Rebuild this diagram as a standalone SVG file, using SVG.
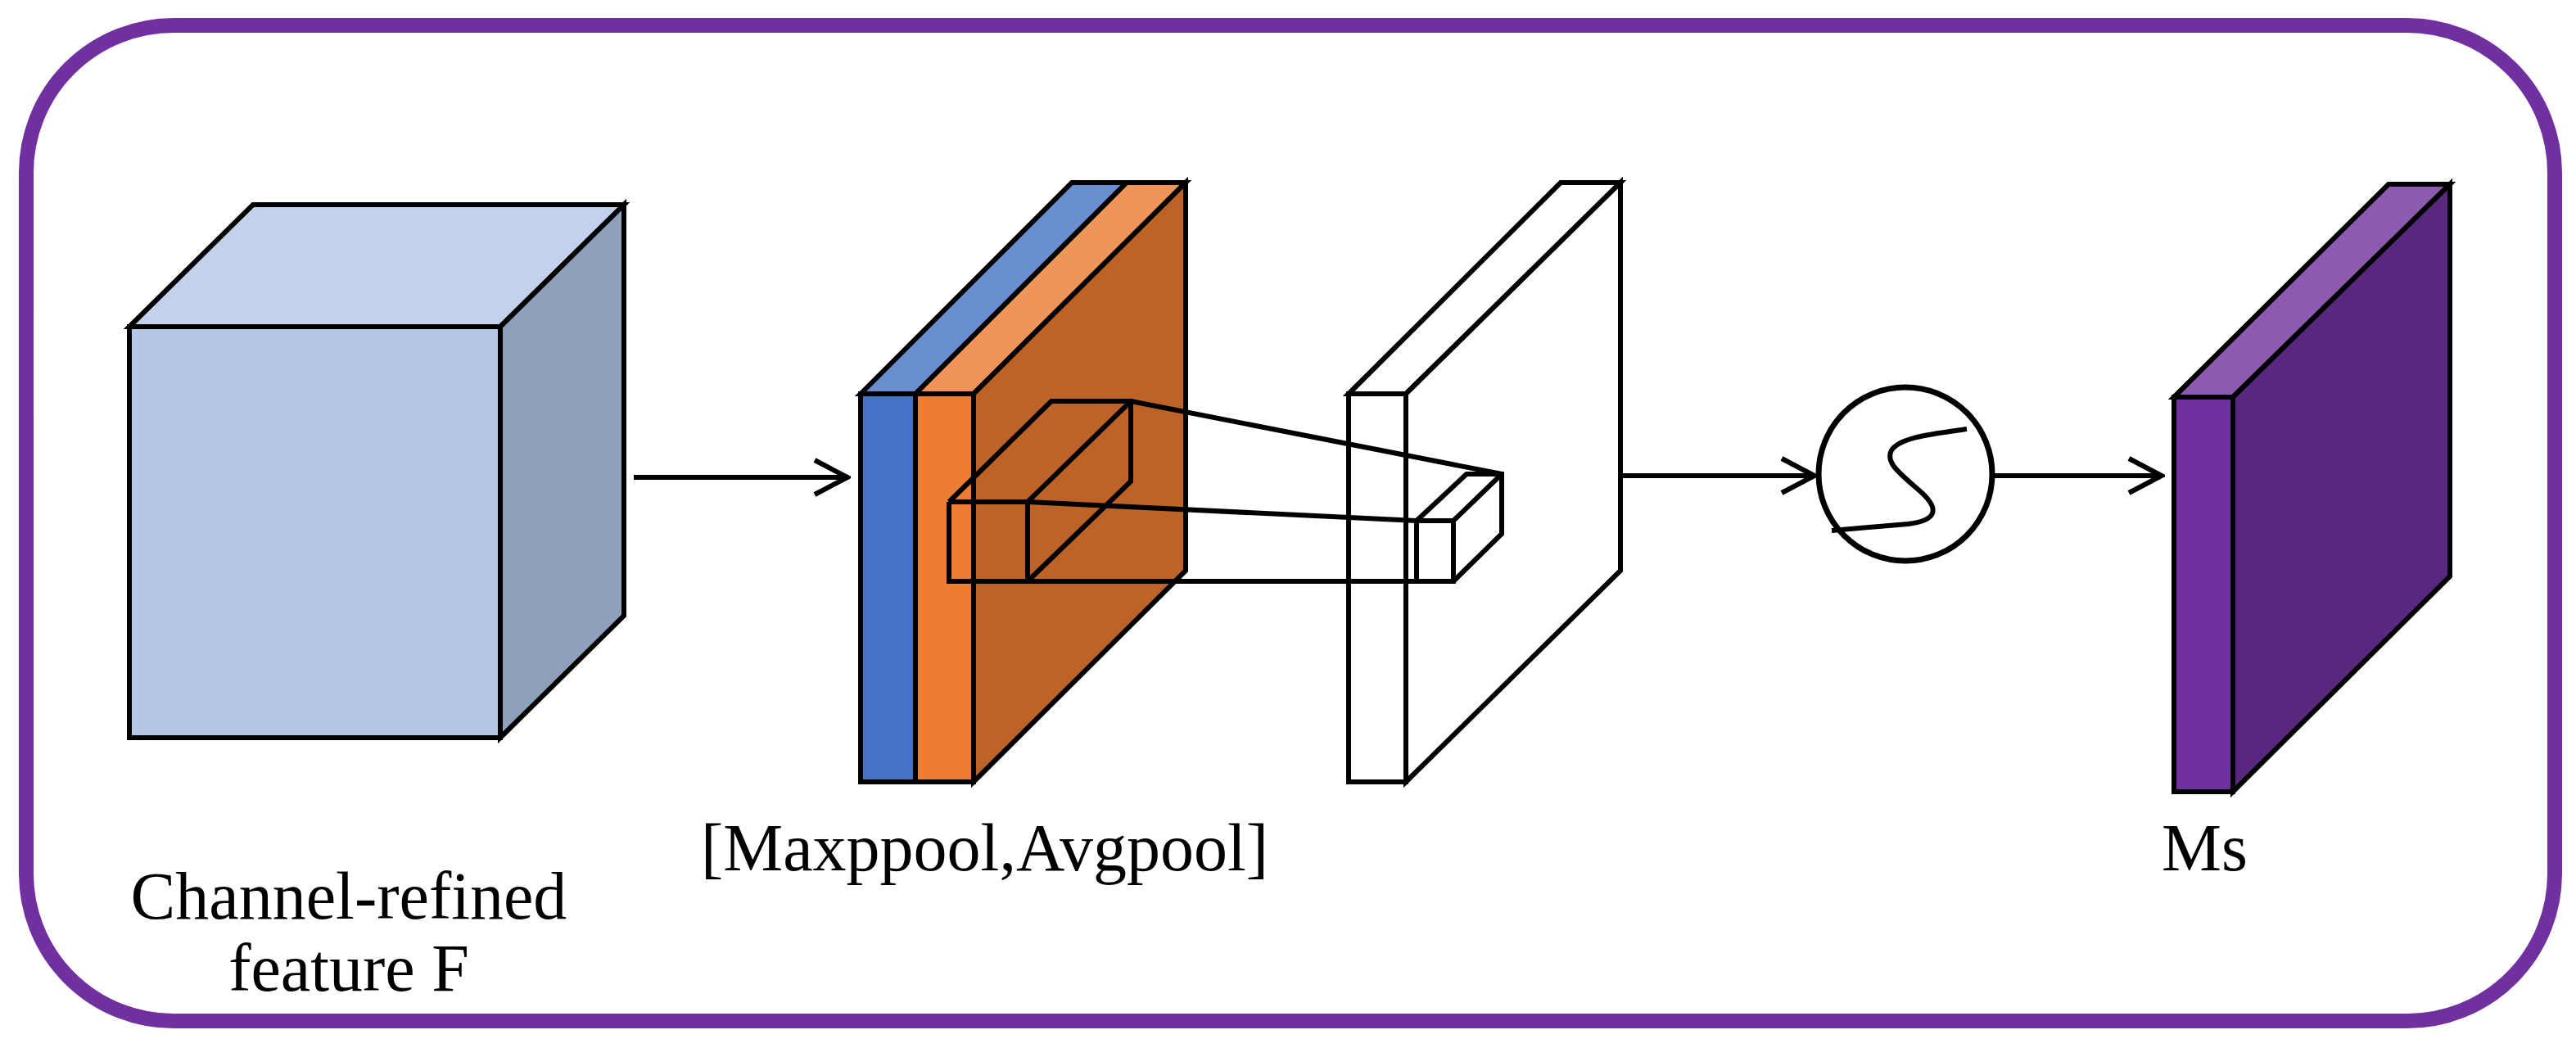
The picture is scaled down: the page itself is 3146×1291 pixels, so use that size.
<svg xmlns="http://www.w3.org/2000/svg" width="3146" height="1291" viewBox="0 0 3146 1291">
<style>
.s{stroke:#000;stroke-width:6;stroke-linejoin:miter}
.l{fill:none;stroke:#000;stroke-width:6}
.t{font-family:"Liberation Serif",serif;font-size:82px;fill:#000}
</style>
<defs>
<marker id="a" viewBox="0 0 50 50" refX="46" refY="25" markerWidth="50" markerHeight="50" markerUnits="userSpaceOnUse" orient="auto">
<path d="M6,4 L46,25 L6,46" fill="none" stroke="#000" stroke-width="6"/>
</marker>
</defs>
<rect x="32" y="31" width="3088" height="1216" rx="180" fill="#fff" stroke="#7030A0" stroke-width="18"/>
<g id="cube">
<polygon class="s" points="158,399 309,250 762,250 611,399" fill="#C2D2EA"/>
<polygon class="s" points="611,399 762,250 762,752 611,901" fill="#8FA1BA"/>
<rect class="s" x="158" y="399" width="453" height="502" fill="#B4C7E7"/>
<text class="t" x="426" y="1122" text-anchor="middle">Channel-refined</text>
<text class="t" x="426" y="1210" text-anchor="middle">feature F</text>
</g>
<g id="pool">
<polygon class="s" points="1051,481 1309,223 1376,223 1118,481" fill="#6A8FD0"/>
<polygon class="s" points="1118,481 1376,223 1448,223 1189,481" fill="#F0955A"/>
<polygon class="s" points="1189,481 1448,223 1448,697 1189,955" fill="#BD6327"/>
<rect class="s" x="1051" y="481" width="67" height="474" fill="#4472C4"/>
<rect class="s" x="1118" y="481" width="71" height="474" fill="#ED7D31"/>
<path class="l" d="M1159,613 L1284,490 L1381,490 L1381,588 L1255,710 M1255,613 L1381,490 M1159,613 H1255 V710 M1159,613 V710 H1255"/>
<text class="t" x="856" y="1063">[Maxppool,Avgpool]</text>
</g>
<g id="conv">
<polygon class="s" points="1647,481 1906,223 1979,223 1717,481" fill="#fff"/>
<polygon class="s" points="1717,481 1979,223 1979,697 1717,955" fill="#fff"/>
<rect class="s" x="1647" y="481" width="70" height="474" fill="#fff"/>
<path class="l" d="M1730,636 L1791,579 L1834,579 L1834,652 L1775,710 M1775,636 L1834,579 M1730,636 H1775 V710 H1730 Z"/>
</g>
<g id="sigmoid">
<circle cx="2327" cy="579" r="106" fill="#fff" stroke="#000" stroke-width="7"/>
<path class="l" stroke-width="8" d="M2402,524 C2360,530 2320,534 2310,550 C2302,565 2320,578 2345,600 C2370,622 2365,636 2330,640 L2237,648"/>
</g>
<g id="ms">
<polygon class="s" points="2655,485 2917,225 2992,225 2727,485" fill="#8C5BB0"/>
<polygon class="s" points="2727,485 2992,225 2992,704 2727,967" fill="#58287E"/>
<rect class="s" x="2655" y="485" width="72" height="482" fill="#7030A0"/>
<text class="t" x="2640" y="1063">Ms</text>
</g>
<g id="connectors">
<path class="l" d="M1381,490 L1834,579 M1255,613 L1730,636 M1159,710 L1730,710"/>
<line class="l" x1="774" y1="583" x2="1035" y2="583" marker-end="url(#a)"/>
<line class="l" x1="1979" y1="581" x2="2216" y2="581" marker-end="url(#a)"/>
<line class="l" x1="2433" y1="581" x2="2640" y2="581" marker-end="url(#a)"/>
</g>
</svg>
